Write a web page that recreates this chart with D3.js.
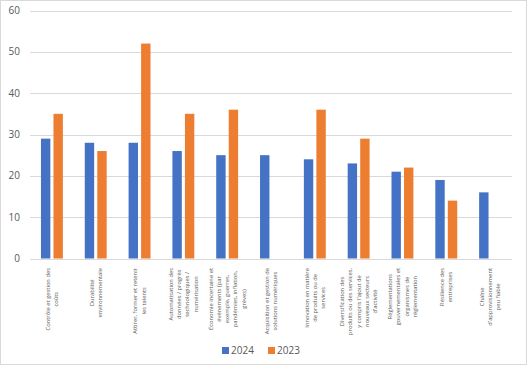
<!DOCTYPE html>
<html>
<head>
<meta charset="utf-8">
<script src="https://cdn.jsdelivr.net/npm/d3@7"></script>
<style>
body { margin: 0; background: #fff; }
svg { display: block; font-family: "Open Sans", "Liberation Sans", sans-serif; }
</style>
</head>
<body>
<script>
const largeur = 529;
const hauteur = 367;

// catégories (lignes de l'étiquette)
const categories = [
    ["Contrôle et gestion des", "coûts"],
    ["Durabilité", "environnementale"],
    ["Attirer, former et retenir", "les talents"],
    ["Automatisation des", "données / progrès", "technologiques /", "numérisation"],
    ["Économie incertaine et", "événements (par", "exemple, guerres,", "pandémies, inflation,", "grèves)"],
    ["Acquisition et gestion de", "solutions numériques"],
    ["Innovation en matière", "de produits ou de", "services"],
    ["Diversification des", "produits ou des services,", "y compris l'ajout de", "nouveaux secteurs", "d'activité"],
    ["Réglementations", "gouvernementales et", "organismes de", "réglementation"],
    ["Résilience des", "entreprises"],
    ["Chaîne", "d'approvisionnement", "peu fiable"]
];

const series = ["2024", "2023"];
const valeurs2024 = [29, 28, 28, 26, 25, 25, 24, 23, 21, 19, 16];
const valeurs2023 = [35, 26, 52, 35, 36, null, 36, 29, 22, 14, null];
const couleurs = ["#4472c4", "#ed7d31"];
const graduations = [0, 10, 20, 30, 40, 50, 60];

const svg = d3.select("body")
.append("svg")
.attr("width", largeur)
.attr("height", hauteur);

svg.append("rect")
.attr("x", 0.5).attr("y", 0.5)
.attr("width", 526).attr("height", 364)
.attr("fill", "white")
.attr("stroke", "#d9d9d9");

const x0 = d3.scaleBand()
.domain(d3.range(categories.length))
.range([30, 512]);

const x1 = d3.scaleBand()
.domain(series)
.range([x0.bandwidth() * 0.25, x0.bandwidth() * 0.75])
.paddingInner(0.25);

const y = d3.scaleLinear()
.domain([0, 60])
.range([258.5, 10.5]);

// grille
svg.append("g")
.selectAll("line")
.data(graduations)
.enter()
.append("line")
.attr("x1", 30)
.attr("x2", 512)
.attr("y1", function(d) { return Math.round(y(d)) + 0.5; })
.attr("y2", function(d) { return Math.round(y(d)) + 0.5; })
.attr("stroke", "#d9d9d9")
.attr("stroke-width", 1);

// axe y
svg.append("g")
.selectAll("text")
.data(graduations)
.enter()
.append("text")
.attr("x", 20)
.attr("y", function(d) { return y(d); })
.attr("dy", "0.35em")
.attr("text-anchor", "end")
.attr("fill", "#595959")
.style("font-size", "10px")
.text(function(d) { return d; });

// barres
const donnees = [];
categories.forEach(function(c, i)
{
    donnees.push({ cat: i, serie: "2024", valeur: valeurs2024[i] });
    donnees.push({ cat: i, serie: "2023", valeur: valeurs2023[i] });
});

svg.append("g")
.selectAll("rect")
.data(donnees.filter(function(d) { return d.valeur != null; }))
.enter()
.append("rect")
.attr("x", function(d) { return x0(d.cat) + x1(d.serie); })
.attr("width", x1.bandwidth())
.attr("y", function(d) { return y(d.valeur); })
.attr("height", function(d) { return y(0) - y(d.valeur); })
.attr("fill", function(d) { return couleurs[series.indexOf(d.serie)]; });

// étiquettes des catégories
const etiquettes = svg.append("g")
.selectAll("g")
.data(categories)
.enter()
.append("g")
.attr("transform", function(d, i)
{
    return "translate(" + (x0(i) + x0.bandwidth() / 2) + ",268) rotate(-90)";
});

etiquettes.each(function(lignes)
{
    const g = d3.select(this);
    const interligne = 8.2;
    const decalage = (lignes.length - 1) * interligne / 2;
    const texte = g.append("text")
    .attr("fill", "#595959")
    .style("font-size", "5.8px")
    .attr("text-anchor", "middle");
    const spans = lignes.map(function(l, k)
    {
        return texte.append("tspan")
        .attr("y", k * interligne - decalage + 2)
        .text(l);
    });
    const larg = d3.max(spans, function(s) { return s.node().getComputedTextLength(); });
    spans.forEach(function(s) { s.attr("x", -larg / 2); });
});

// légende
const legende = svg.append("g")
.selectAll("g")
.data(series)
.enter()
.append("g")
.attr("transform", function(d, i) { return "translate(" + (222 + i * 46) + ",347)"; });

legende.append("rect")
.attr("width", 7)
.attr("height", 7)
.attr("fill", function(d, i) { return couleurs[i]; });

legende.append("text")
.attr("x", 9)
.attr("y", 3.5)
.attr("dy", "0.35em")
.attr("fill", "#595959")
.style("font-size", "10px")
.text(function(d) { return d; });
</script>
</body>
</html>
